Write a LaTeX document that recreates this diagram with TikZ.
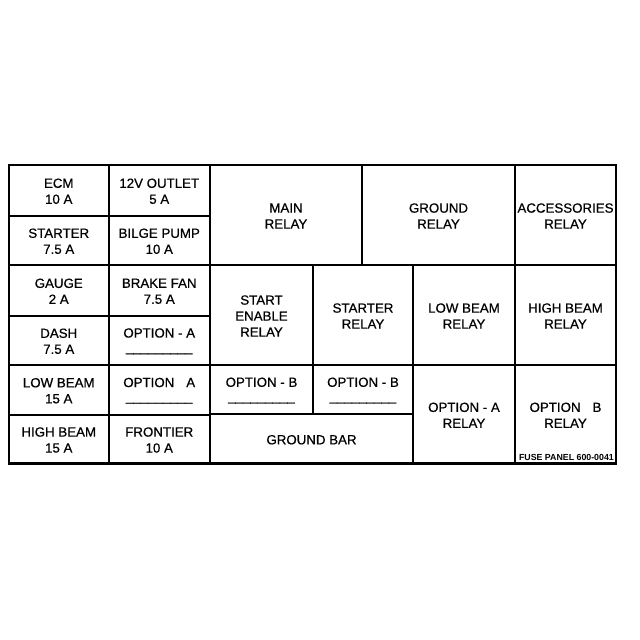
\documentclass[tikz,border=0pt]{standalone}
\usepackage{fontspec}
\setmainfont{Liberation Sans}
\newfontfamily\heavyface{Liberation Sans}[FakeBold=0.6]
\newfontfamily\tagface{Liberation Sans Bold}
\begin{document}
\begin{tikzpicture}[x=1pt,y=-1pt,
  cell/.style={draw=black, line width=2pt, rectangle, inner sep=0pt, outer sep=0pt},
  label/.style={align=center, font=\heavyface\fontsize{13.3}{16}\selectfont, text=black, inner sep=0pt},
  smalltag/.style={font=\tagface\fontsize{8.8}{10}\selectfont, inner sep=0pt, text=black},
  frame/.style={draw=black, line width=2.6pt}]
\useasboundingbox[fill=white] (0,0) rectangle (640,640);
\newcommand{\fcell}[6]{%
  \node[cell, minimum width={(#4)-(#2)}, minimum height={(#5)-(#3)}] (#1) at ({((#2)+(#4))/2},{((#3)+(#5))/2}) {};%
  \node[label] (#1-t) at ({((#2)+(#4))/2},{((#3)+(#5))/2+1}) {#6};}
\newcommand{\blank}{\_\_\_\_\_\_\_\_\_}
% left columns
\fcell{ecm}{9}{165}{108.5}{215.5}{ECM\\10 A}
\fcell{outlet}{108.5}{165}{210}{215.5}{12V OUTLET\\5 A}
\fcell{starter}{9}{215.5}{108.5}{265}{STARTER\\7.5 A}
\fcell{bilge}{108.5}{215.5}{210}{265}{BILGE PUMP\\10 A}
\fcell{gauge}{9}{265}{108.5}{315.5}{GAUGE\\2 A}
\fcell{brake}{108.5}{265}{210}{315.5}{BRAKE FAN\\7.5 A}
\fcell{dash}{9}{315.5}{108.5}{365}{DASH\\7.5 A}
\fcell{opta1}{108.5}{315.5}{210}{365}{OPTION - A\\[-2pt]\blank}
\fcell{lowbeam}{9}{365}{108.5}{414.5}{LOW BEAM\\15 A}
\fcell{opta2}{108.5}{365}{210}{414.5}{OPTION\hspace{0.9em}A\\[-2pt]\blank}
\fcell{highbeam}{9}{414.5}{108.5}{463.5}{HIGH BEAM\\15 A}
\fcell{frontier}{108.5}{414.5}{210}{463.5}{FRONTIER\\10 A}
% right part
\fcell{main}{210}{165}{362}{265}{MAIN\\RELAY}
\fcell{ground}{362}{165}{515}{265}{GROUND\\RELAY}
\fcell{acc}{515}{165}{616}{265}{ACCESSORIES\\RELAY}
\fcell{startenable}{210}{265}{313}{365}{START\\ENABLE\\RELAY}
\fcell{starterrelay}{313}{265}{413}{365}{STARTER\\RELAY}
\fcell{lowbeamrelay}{413}{265}{515}{365}{LOW BEAM\\RELAY}
\fcell{highbeamrelay}{515}{265}{616}{365}{HIGH BEAM\\RELAY}
\fcell{optb1}{210}{365}{313}{414}{OPTION - B\\[-2pt]\blank}
\fcell{optb2}{313}{365}{413}{414}{OPTION - B\\[-2pt]\blank}
\fcell{optarelay}{413}{365}{515}{463.5}{OPTION - A\\RELAY}
\fcell{optbrelay}{515}{365}{616}{463.5}{OPTION\hspace{0.9em}B\\RELAY}
\fcell{groundbar}{210}{414}{413}{463.5}{GROUND BAR}
% outer frame
\draw[frame] (9,165) rectangle (616,463.5);
\node[smalltag, anchor=base east] (tag) at (614,460.5) {FUSE PANEL 600-0041};
\end{tikzpicture}
\end{document}
